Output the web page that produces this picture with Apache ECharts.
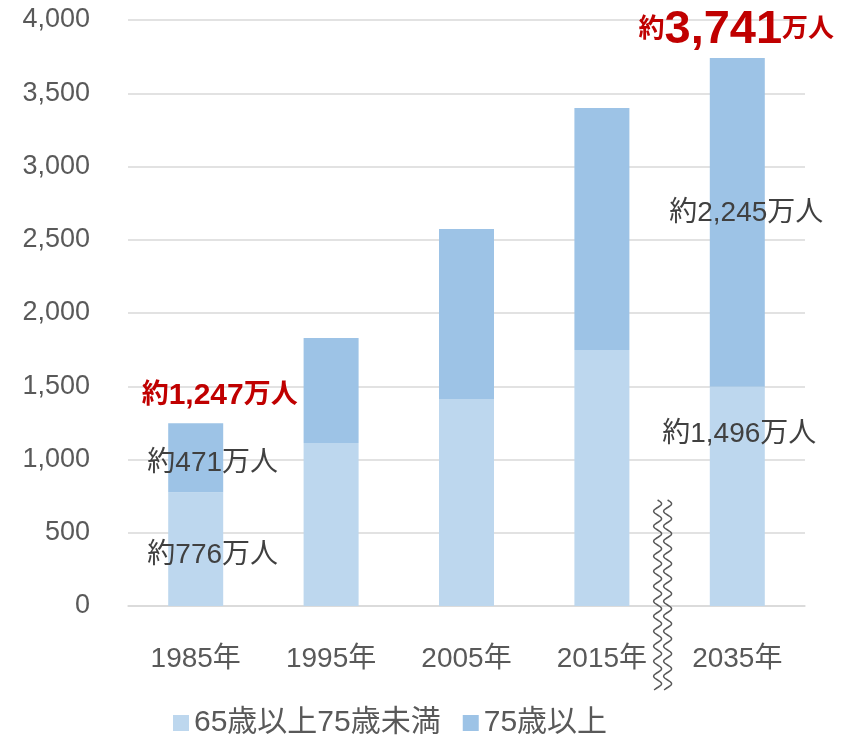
<!DOCTYPE html>
<html>
<head>
<meta charset="utf-8">
<script src="https://cdn.jsdelivr.net/npm/echarts@6/dist/echarts.min.js"></script>
<style>
  * { margin: 0; padding: 0; }
  body { background: #fff; }
</style>
</head>
<body>
<div id="main" style="width: 852px;height: 741px;"></div>
<script>
  var years = ['1985年', '1995年', '2005年', '2015年', '2035年'];
  var under75 = [776, 1113, 1413, 1747, 1496];
  var over75 = [471, 716, 1160, 1652, 2245];
  var yTicks = [0, 500, 1000, 1500, 2000, 2500, 3000, 3500, 4000];

  var FONT = '"Liberation Sans", "Noto Sans CJK JP", sans-serif';
  var chart = echarts.init(document.getElementById('main'));

  // labels inside the bars (only some bars have them)
  function lowerData() {
    return under75.map(function (v, i) {
      var item = { value: v };
      if (i === 0) item.label = { show: true, formatter: '約776万人', offset: [17, 6] };
      if (i === 4) item.label = { show: true, formatter: '約1,496万人', position: 'insideTop', offset: [2, 28] };
      return item;
    });
  }
  function upperData() {
    return over75.map(function (v, i) {
      var item = { value: v };
      if (i === 0) item.label = { show: true, formatter: '約471万人', offset: [17, 5] };
      if (i === 4) item.label = { show: true, formatter: '約2,245万人', offset: [9, -9] };
      return item;
    });
  }

  var redRich = {
    s: { color: '#C00000', fontWeight: 'bold', fontSize: 27, fontFamily: FONT },
    m: { color: '#C00000', fontWeight: 'bold', fontSize: 30, fontFamily: FONT },
    t: { color: '#C00000', fontWeight: 'bold', fontSize: 26, fontFamily: FONT },
    b: { color: '#C00000', fontWeight: 'bold', fontSize: 47, fontFamily: FONT }
  };

  chart.setOption({
    animation: false,
    textStyle: { fontFamily: FONT },
    color: ['#BDD7EE', '#9DC3E6'],
    grid: { left: 128, right: 47, top: 20, bottom: 135 },
    legend: {
      left: 168, bottom: -2,
      itemWidth: 16, itemHeight: 16, itemGap: 22,
      icon: 'rect',
      textStyle: { fontSize: 30, color: '#595959', fontFamily: FONT }
    },
    xAxis: {
      type: 'category',
      data: years,
      axisLine: { lineStyle: { color: '#D9D9D9', width: 1.5 } },
      axisTick: { show: false },
      axisLabel: { fontSize: 28, color: '#595959', margin: 39 }
    },
    yAxis: {
      type: 'value',
      min: yTicks[0], max: yTicks[yTicks.length - 1], interval: 500,
      axisLine: { show: false },
      axisTick: { show: false },
      splitLine: { lineStyle: { color: '#D9D9D9', width: 1.5 } },
      axisLabel: {
        fontSize: 27, color: '#595959', margin: 38,
        formatter: function (v) { return v.toLocaleString('en-US'); }
      }
    },
    series: [
      {
        name: '65歳以上75歳未満', type: 'bar', stack: 'total', barWidth: 55,
        label: { position: 'inside', fontSize: 28, color: '#404040', fontFamily: FONT },
        data: lowerData()
      },
      {
        name: '75歳以上', type: 'bar', stack: 'total', barWidth: 55,
        label: { position: 'inside', fontSize: 28, color: '#404040', fontFamily: FONT },
        data: upperData(),
        markPoint: {
          symbol: 'circle', symbolSize: 0,
          data: [
            { coord: [0, 1247], label: { show: true, offset: [24, -28], formatter: '{s|約}{m|1,247}{s|万人}', rich: redRich } },
            { coord: [4, 3741], label: { show: true, offset: [-1, -28], formatter: '{t|約}{b|3,741}{t|万人}', rich: redRich } }
          ]
        }
      }
    ]
  });

  // wavy break mark between 2015 and 2035
  function wave(x0) {
    var pts = [];
    for (var y = 0; y <= 190; y += 1) {
      pts.push([x0 + 4 * Math.sin(y / 15 * 2 * Math.PI), 500 + y]);
    }
    return pts;
  }
  var xb = (chart.convertToPixel({ xAxisIndex: 0 }, '2015年') + chart.convertToPixel({ xAxisIndex: 0 }, '2035年')) / 2;
  chart.setOption({
    graphic: [
      { type: 'polyline', shape: { points: wave(xb - 12) }, style: { stroke: '#595959', lineWidth: 1.5, fill: null }, z: 100 },
      { type: 'polyline', shape: { points: wave(xb - 2) }, style: { stroke: '#595959', lineWidth: 1.5, fill: null }, z: 100 }
    ]
  });
</script>
</body>
</html>
